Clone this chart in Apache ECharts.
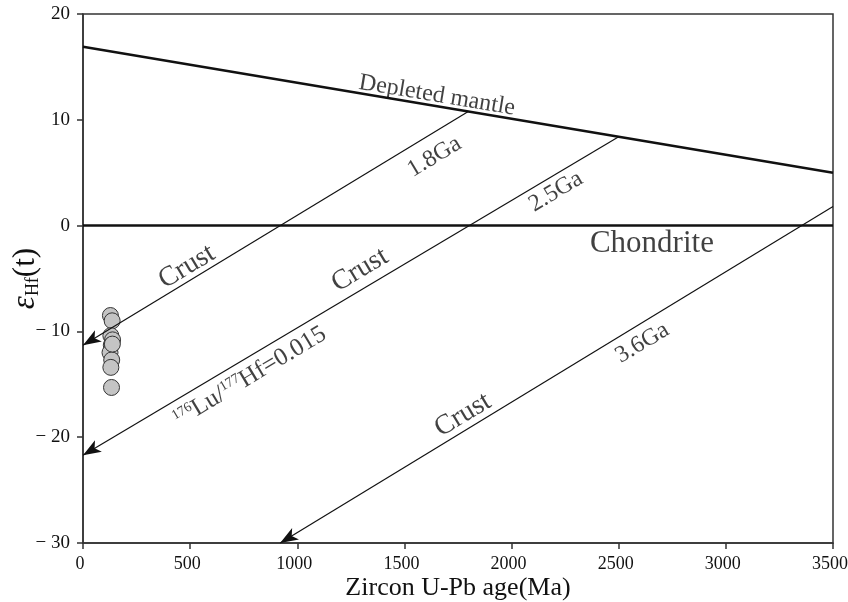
<!DOCTYPE html>
<html lang="en">
<head>
    <meta charset="UTF-8">
    <title>Hf isotope evolution</title>
    <script src="https://cdn.jsdelivr.net/npm/echarts@6/dist/echarts.min.js"></script>
    <style>
        html, body { margin: 0; padding: 0; background: #fff; }
        #chart { width: 848px; height: 602px; }
    </style>
</head>
<body>
    <div id="chart"></div>
    <script>
        // zircon samples: age (Ma), εHf(t)
        var sampleAge = [128, 136, 130, 138, 132, 126, 134, 130, 137, 133];
        var sampleEhf = [-8.5, -9.0, -10.4, -10.8, -11.3, -12.0, -12.7, -13.4, -11.2, -15.3];

        // reference lines [age, εHf]
        var depletedMantle = [[0, 16.9], [3500, 5.0]];
        var chondrite = [[0, 0], [3500, 0]];
        var crust18 = [[1800, 10.8], [0, -11.3]];
        var crust25 = [[2500, 8.4], [0, -21.7]];
        var crust36 = [[3500, 1.8], [920, -30]];
        var crustLines = [crust18, crust25, crust36];

        // text notes: [text, age, εHf, rotate, fontSize]
        var notes = [
            ['Depleted mantle', 1652, 12.3, -9.5, 24],
            ['1.8Ga', 1640, 6.5, 31, 24],
            ['2.5Ga', 2207, 3.2, 31, 24],
            ['3.6Ga', 2610, -11.1, 31, 24],
            ['Chondrite', 2655, -1.7, 0, 31],
            ['Crust', 485, -3.9, 31, 28],
            ['Crust', 1293, -4.2, 31, 28],
            ['Crust', 1773, -17.9, 31, 28],
            ['{sup|176}Lu/{sup|177}Hf=0.015', 779, -14.3, 31, 25]
        ];

        var font = 'Liberation Serif';
        var ink = '#111';

        var myChart = echarts.init(document.getElementById('chart'));

        var option = {
            animation: false,
            grid: {
                left: 83, right: 15, top: 14, bottom: 59,
                outerBoundsMode: 'none',
                show: true, borderColor: '#333', borderWidth: 1.5,
                containLabel: false
            },
            xAxis: {
                type: 'value', min: 0, max: 3500, interval: 500,
                name: 'Zircon U-Pb age(Ma)', nameLocation: 'middle', nameGap: 32,
                nameMoveOverlap: false,
                nameTextStyle: { fontFamily: font, fontSize: 26, color: ink },
                axisLine: { onZero: false, lineStyle: { color: '#333', width: 1.5 } },
                axisTick: { inside: false, length: 6, lineStyle: { color: '#333', width: 1.5 } },
                axisLabel: {
                    fontFamily: font, fontSize: 18, color: ink, margin: 12,
                    padding: [0, 6, 0, 0],
                    formatter: function (v) { return String(v); }
                },
                splitLine: { show: false }
            },
            yAxis: {
                type: 'value', min: -30, max: 20, interval: 10,
                name: '{e|ε}{sub|Hf}(t)', nameLocation: 'middle', nameGap: 41, nameRotate: 90,
                nameMoveOverlap: false,
                nameTextStyle: {
                    fontFamily: font, fontSize: 31, color: ink,
                    rich: {
                        e: { fontFamily: font, fontSize: 33, fontStyle: 'italic', color: ink },
                        sub: { fontFamily: font, fontSize: 18, color: ink, verticalAlign: 'bottom', padding: [12, 0, 0, 0] }
                    }
                },
                axisLine: { onZero: false, lineStyle: { color: '#333', width: 1.5 } },
                axisTick: { inside: false, length: 6, lineStyle: { color: '#333', width: 1.5 } },
                axisLabel: {
                    fontFamily: font, fontSize: 19, color: ink, margin: 13,
                    formatter: function (v) { return v < 0 ? '\u2212 ' + Math.abs(v) : String(v); }
                },
                splitLine: { show: false }
            },
            series: [
                {
                    name: 'Depleted mantle', type: 'line', data: depletedMantle,
                    symbol: 'none', silent: true,
                    lineStyle: { color: ink, width: 2.5 },
                    markLine: {
                        silent: true, symbol: 'none',
                        label: { show: false },
                        lineStyle: { color: ink, width: 1.2, type: 'solid' },
                        data: crustLines.map(function (l) {
                            return [{ coord: l[0] }, { coord: l[1] }];
                        })
                    }
                },
                {
                    name: 'Chondrite', type: 'line', data: chondrite,
                    symbol: 'none', silent: true,
                    lineStyle: { color: ink, width: 2.5 }
                },
                {
                    // arrow heads at the lower ends of the crust lines (tip sits on the point)
                    name: 'arrows', type: 'scatter', silent: true,
                    data: crustLines.map(function (l) { return l[1]; }),
                    symbol: 'arrow', symbolSize: [10, 18], symbolRotate: 121,
                    itemStyle: { color: ink, opacity: 1 }
                },
                {
                    name: 'Samples', type: 'scatter',
                    data: sampleAge.map(function (a, i) { return [a, sampleEhf[i]]; }),
                    symbol: 'circle', symbolSize: 16,
                    itemStyle: { color: '#c4c4c4', borderColor: '#333', borderWidth: 1, opacity: 1 }
                },
                {
                    name: 'notes', type: 'scatter', symbolSize: 0, silent: true,
                    data: notes.map(function (n) {
                        return {
                            value: [n[1], n[2]],
                            label: {
                                show: true, position: 'inside', formatter: n[0],
                                rotate: n[3], fontSize: n[4], fontFamily: font, color: ink,
                                textBorderWidth: 0, textBorderColor: 'transparent',
                                rich: {
                                    sup: { fontFamily: font, fontSize: 14, color: ink, verticalAlign: 'top', padding: [0, 0, 10, 0] }
                                }
                            }
                        };
                    })
                }
            ]
        };

        myChart.setOption(option);
    </script>
</body>
</html>
